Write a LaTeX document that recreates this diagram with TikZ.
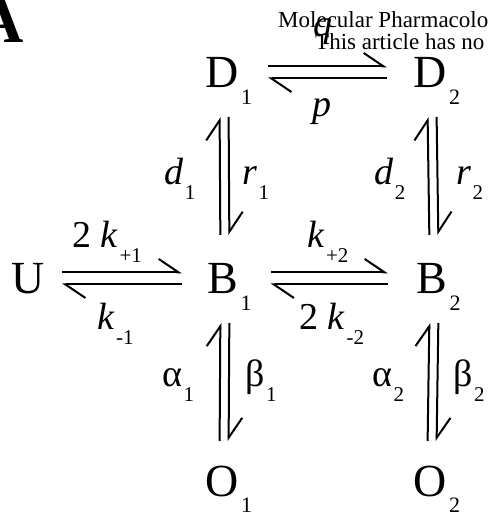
\documentclass[tikz,border=0pt]{standalone}
\usepackage{fontspec}
\setmainfont{Liberation Serif}
\usetikzlibrary{arrows.meta,calc}
\newcommand{\mainsz}{\fontsize{46}{46}\selectfont}
\newcommand{\labsz}{\fontsize{38}{38}\selectfont}
\newcommand{\ssub}[1]{\kern3pt\raisebox{-17pt}{\fontsize{22}{22}\selectfont #1}}
\newcommand{\lsub}[1]{\kern1.5pt\raisebox{-15pt}{\fontsize{21}{21}\selectfont #1}}
\begin{document}
\begin{tikzpicture}[x=1pt,y=1pt,
  st/.style={inner sep=0pt, outer sep=0pt, anchor=base west, text height=31pt, text depth=0pt, font=\mainsz},
  lab/.style={inner sep=0pt, anchor=base west, font=\labsz},
  harp/.style={line width=2pt, -{Straight Barb[harpoon,length=20pt,width=27pt,line width=2pt]}},
  hdr/.style={inner sep=0pt, anchor=base west, font=\fontsize{23}{23}\selectfont}
]
\useasboundingbox (0,0) rectangle (491,515);
\clip (0,0) rectangle (491,515);

% header and panel letter
\node[inner sep=0pt, anchor=base east, font=\fontsize{64}{64}\selectfont\bfseries] (A) at (24,472) {A};
\node[hdr] (h1) at (278,487) {Molecular Pharmacolo};
\node[hdr] (h2) at (315,465) {This article has no};

% states
\node[st] (D1) at (205,427) {D\ssub{1}};
\node[st] (D2) at (413,427) {D\ssub{2}};
\node[st] (U)  at (11,221)  {U};
\node[st] (B1) at (207,221) {B\ssub{1}};
\node[st] (B2) at (416,221) {B\ssub{2}};
\node[st] (O1) at (205,19)  {O\ssub{1}};
\node[st] (O2) at (413,19)  {O\ssub{2}};

% horizontal harpoons
\draw[harp, shorten <=16pt, shorten >=26pt] ([yshift=6pt]D1.east) -- ([yshift=6pt]D2.west);
\draw[harp, shorten <=26pt, shorten >=16pt] ([yshift=-6pt]D2.west) -- ([yshift=-6pt]D1.east);
\draw[harp, shorten <=18pt, shorten >=25pt] ([yshift=6pt]U.east) -- ([yshift=6pt]B1.west);
\draw[harp, shorten <=25pt, shorten >=18pt] ([yshift=-6pt]B1.west) -- ([yshift=-6pt]U.east);
\draw[harp, shorten <=19pt, shorten >=28pt] ([yshift=6pt]B1.east) -- ([yshift=6pt]B2.west);
\draw[harp, shorten <=28pt, shorten >=19pt] ([yshift=-6pt]B2.west) -- ([yshift=-6pt]B1.east);

% vertical harpoons
\draw[harp] ($(B1.north)+(-9,28)$) -- ($(D1.south)+(-9,-29)$);
\draw[harp] ($(D1.south)+(0,-29)$) -- ($(B1.north)+(0,28)$);
\draw[harp] ($(B2.north)+(-9,28)$) -- ($(D2.south)+(-9,-29)$);
\draw[harp] ($(D2.south)+(0,-29)$) -- ($(B2.north)+(0,28)$);
\draw[harp] ($(O1.north)+(-9,24)$) -- ($(B1.south)+(-9,-29)$);
\draw[harp] ($(B1.south)+(0,-29)$) -- ($(O1.north)+(0,24)$);
\draw[harp] ($(O2.north)+(-9,24)$) -- ($(B2.south)+(-9,-29)$);
\draw[harp] ($(B2.south)+(0,-29)$) -- ($(O2.north)+(0,24)$);

% rate labels
\node[lab] (lq) at (313,478) {\textit{q}};
\node[lab] (lp) at (312,398) {\textit{p}};
\node[lab] (ld1) at (164,330) {\textit{d}\lsub{1}};
\node[lab] (lr1) at (242,330) {\textit{r}\lsub{1}};
\node[lab] (ld2) at (374,330) {\textit{d}\lsub{2}};
\node[lab] (lr2) at (456,330) {\textit{r}\lsub{2}};
\node[lab] (lkp1) at (72,267) {2 \textit{k}\lsub{+1}};
\node[lab] (lkm1) at (97,185) {\textit{k}\lsub{-1}};
\node[lab] (lkp2) at (307,267) {\textit{k}\lsub{+2}};
\node[lab] (lkm2) at (299,185) {2 \textit{k}\lsub{-2}};
\node[lab] (la1) at (162,128) {α\lsub{1}};
\node[lab] (lb1) at (245,128) {β\lsub{1}};
\node[lab] (la2) at (372,128) {α\lsub{2}};
\node[lab] (lb2) at (453,128) {β\lsub{2}};
\end{tikzpicture}
\end{document}
